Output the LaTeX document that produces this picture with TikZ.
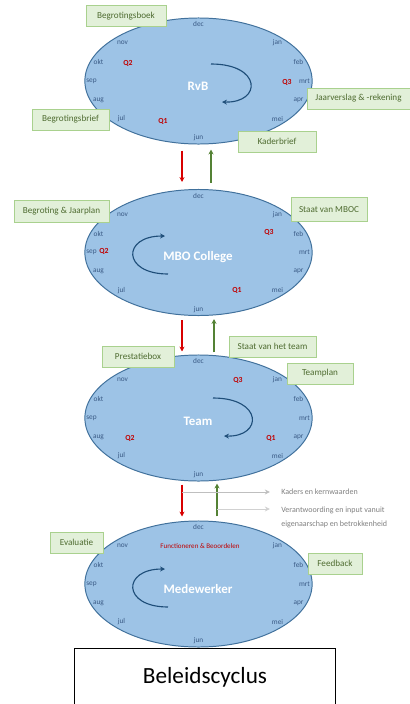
\documentclass[tikz,border=0pt]{standalone}
\usepackage{fontspec}
\setmainfont{Carlito}
\usepackage{tikz}
\usetikzlibrary{shapes.geometric,arrows.meta,calc}

\definecolor{ringvul}{HTML}{9DC3E6}
\definecolor{ringrand}{HTML}{41719C}
\definecolor{maandkl}{HTML}{3A5A85}
\definecolor{qrood}{HTML}{C00000}
\definecolor{boxvul}{HTML}{E2F0D9}
\definecolor{boxrand}{HTML}{A9D18E}
\definecolor{boxtekst}{HTML}{4E6B30}
\definecolor{draaikl}{HTML}{1F4E79}
\definecolor{pijlrood}{HTML}{D80000}
\definecolor{pijlgroen}{HTML}{548235}
\definecolor{grijstekst}{HTML}{808080}

\tikzset{
  ring/.style={ellipse,draw=ringrand,fill=ringvul,line width=0.7pt,minimum width=5.68cm,minimum height=3.15cm,inner sep=0pt},
  maand/.style={text=maandkl,font=\fontsize{5.2}{6}\selectfont,inner sep=0pt},
  kwart/.style={text=qrood,font=\fontsize{5.5}{6}\selectfont\bfseries,inner sep=0pt},
  kern/.style={text=white,font=\fontsize{9.2}{11}\selectfont\bfseries,inner sep=0pt},
  doc/.style={draw=boxrand,fill=boxvul,text=boxtekst,font=\fontsize{6.5}{8}\selectfont,line width=0.6pt,minimum height=0.525cm,inner sep=0pt},
  draai/.style={draw=draaikl,line width=0.8pt,-{Stealth[length=3.5pt,width=3.5pt]}},
  neer/.style={draw=pijlrood,line width=1pt,-{Stealth[length=3.5pt,width=3.5pt]}},
  op/.style={draw=pijlgroen,line width=1pt,-{Stealth[length=3.5pt,width=3.5pt]}},
  grijs/.style={draw=#1,line width=0.7pt,-{Stealth[length=3.5pt,width=3.5pt]},shorten >=0.28cm},
  uitleg/.style={text=grijstekst,font=\fontsize{5.7}{9.5}\selectfont,inner sep=0pt,anchor=west,align=left}
}

\begin{document}
\begin{tikzpicture}[x=0.025cm,y=-0.025cm]
  \useasboundingbox (0,0) rectangle (409,704);

  % de vier cycli
  \node[ring] (rvb) at (198.5,81) {};
  \node[ring] (mbo) at (198.5,252.5) {};
  \node[ring] (team) at (198.5,418) {};
  \node[ring] (mw) at (198.5,584) {};

  % maanden rond elke cyclus
  \foreach \n/\cy in {rvb/81,mbo/252.5,team/418,mw/584}{
    \foreach \m/\dx/\dy in {dec/0/-57,jan/79/-38,feb/100/-19,mrt/106/0,apr/100/19,mei/79/38,jun/0/57,jul/-77/38,aug/-100/19,sep/-107/0,okt/-100/-19,nov/-76/-38}
      \node[maand] (\n-\m) at (198.5+\dx,\cy+\dy) {\m};
  }

  % kwartalen
  \node[kwart] (rvb-q2) at (128,63) {Q2};
  \node[kwart] (rvb-q3) at (287,82) {Q3};
  \node[kwart] (rvb-q1) at (163,121) {Q1};
  \node[kwart] (mbo-q3) at (269,232) {Q3};
  \node[kwart] (mbo-q2) at (104,251) {Q2};
  \node[kwart] (mbo-q1) at (237,290) {Q1};
  \node[kwart] (team-q3) at (238,380) {Q3};
  \node[kwart] (team-q2) at (130,438) {Q2};
  \node[kwart] (team-q1) at (271,438) {Q1};
  \node[text=qrood,font=\fontsize{5}{6}\selectfont,inner sep=0pt] (functie) at (200,546) {Functioneren \& Beoordelen};

  % namen
  \node[kern] (rvb-naam) at (198,86) {RvB};
  \node[kern] (mbo-naam) at (198,257) {MBO College};
  \node[kern] (team-naam) at (198,421) {Team};
  \node[kern] (mw-naam) at (198,589) {Medewerker};

  % draairichting
  \draw[draai] (211,64) .. controls (262,64) and (262,103) .. (222,102);
  \draw[draai] (168,274) .. controls (122,274) and (122,236) .. (165,236);
  \draw[draai] (213,398) .. controls (263,398) and (263,437) .. (224,436);
  \draw[draai] (168,607) .. controls (122,607) and (122,569) .. (165,569);

  % documenten
  \node[doc,minimum width=2cm] (boek) at (126,16) {Begrotingsboek};
  \node[doc,minimum width=2.575cm] (jaarverslag) at (358.5,98.5) {Jaarverslag \& -rekening};
  \node[doc,minimum width=1.925cm] (brief) at (70.5,119.5) {Begrotingsbrief};
  \node[doc,minimum width=1.95cm] (kader) at (277,141.5) {Kaderbrief};
  \node[doc,minimum width=2.375cm,minimum height=0.55cm] (jaarplan) at (61.5,211) {Begroting \& Jaarplan};
  \node[doc,minimum width=1.9cm,minimum height=0.6cm] (staat-mboc) at (329,209.5) {Staat van MBOC};
  \node[doc,minimum width=1.8cm] (prestatie) at (138,356.5) {Prestatiebox};
  \node[doc,minimum width=2.175cm] (staat-team) at (272.5,346.5) {Staat van het team};
  \node[doc,minimum width=1.65cm] (teamplan) at (320,373.5) {Teamplan};
  \node[doc,minimum width=1.325cm] (evaluatie) at (76.5,542.5) {Evaluatie};
  \node[doc,minimum width=1.35cm] (feedback) at (335,563.5) {Feedback};

  % omlaag en omhoog
  \draw[neer] ($(rvb.south)+(-16.5,6)$) -- ($(mbo.north)+(-16.5,-7)$);
  \draw[op] ($(mbo.north)+(12.5,-6)$) -- ($(rvb.south)+(12.5,5)$);
  \draw[neer] ($(mbo.south)+(-16.5,4)$) -- ($(team.north)+(-16.5,-3)$);
  \draw[op] ($(team.north)+(15.5,-2)$) -- ($(mbo.south)+(15.5,3)$);
  \draw[neer] ($(team.south)+(-16.5,3)$) -- ($(mw.north)+(-16.5,-4)$);
  \draw[op] ($(mw.north)+(18.5,-4)$) -- ($(team.south)+(18.5,2)$);

  % toelichting
  \coordinate (k1) at (182,492);
  \coordinate (k2) at (217,509);
  \node[uitleg] (kaders) at (281,492) {Kaders en kernwaarden};
  \node[uitleg,anchor=north west] (verantw) at (281,507) {Verantwoording en input vanuit\\eigenaarschap en betrokkenheid};
  \draw[grijs=black!25] (k1) -- (kaders.west);
  \draw[grijs=black!18] (k2) -- (k2 -| verantw.west);

  \node[draw=black,fill=white,line width=0.7pt,minimum width=6.5cm,minimum height=1.45cm,font=\fontsize{16.5}{18}\selectfont] (titel) at (205,677) {Beleidscyclus};
\end{tikzpicture}
\end{document}
